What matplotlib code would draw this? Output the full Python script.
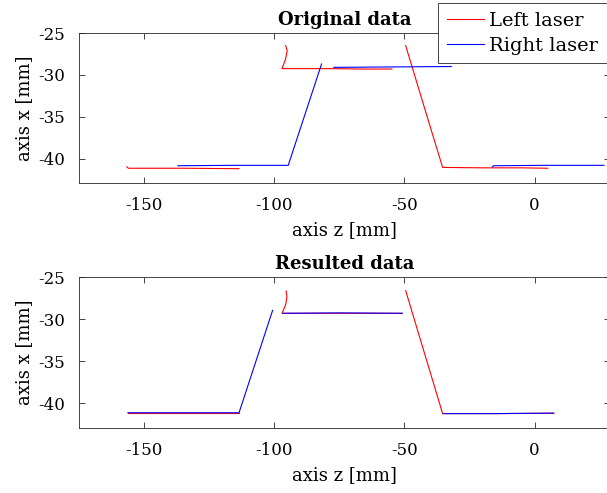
import numpy as np
import matplotlib.pyplot as plt

plt.rcParams['font.family'] = ['DejaVu Serif']
plt.rcParams['axes.unicode_minus'] = False

# Original data, left laser (red): z, x per segment
orig_left_z = [[-156.6, -156.0, -135.0, -113.5],
               [-95.6, -95.0, -95.6, -97.0, -80.0, -65.0, -54.8],
               [-49.5, -42.5, -35.3, -20.0, -5.0, 5.1]]
orig_left_x = [[-40.98, -41.15, -41.15, -41.2],
               [-26.5, -27.1, -28.1, -29.25, -29.25, -29.3, -29.3],
               [-26.5, -33.7, -41.05, -41.1, -41.1, -41.15]]

# Original data, right laser (blue)
orig_right_z = [[-137.0, -115.0, -94.6, -81.8],
                [-77.1, -55.0, -32.0],
                [-16.2, -15.8, 5.0, 26.7]]
orig_right_x = [[-40.85, -40.8, -40.8, -28.7],
                [-29.1, -29.05, -29.0],
                [-41.0, -40.85, -40.8, -40.8]]

# Resulted data, left laser (red)
res_left_z = [[-156.2, -135.0, -113.5],
              [-95.4, -95.1, -95.6, -97.0, -75.0, -50.8],
              [-49.5, -42.5, -35.3, -15.0, 7.4]]
res_left_x = [[-41.1, -41.1, -41.1],
              [-26.65, -27.3, -28.3, -29.3, -29.3, -29.3],
              [-26.6, -33.8, -41.2, -41.2, -41.15]]

# Resulted data, right laser (blue)
res_right_z = [[-156.2, -135.0, -113.5, -100.6],
               [-96.6, -75.0, -50.8],
               [-35.0, -15.0, 7.4]]
res_right_x = [[-41.1, -41.1, -41.1, -28.95],
               [-29.3, -29.25, -29.3],
               [-41.2, -41.2, -41.15]]

titles = ['Original data', 'Resulted data']
xticks = [-150, -100, -50, 0]
yticks = [-40, -35, -30, -25]

fig = plt.figure(figsize=(6.07, 4.93), dpi=100)
ax1 = fig.add_axes([0.130, 0.629, 0.875, 0.304])
ax2 = fig.add_axes([0.130, 0.132, 0.875, 0.306])

panels = [(ax1, orig_left_z, orig_left_x, orig_right_z, orig_right_x),
          (ax2, res_left_z, res_left_x, res_right_z, res_right_x)]

for i, (ax, lz, lx, rz, rx) in enumerate(panels):
    for j, (z, x) in enumerate(zip(lz, lx)):
        ax.plot(z, x, color='#ff0000', lw=0.8,
                label='Left laser' if j == 0 else None)
    for j, (z, x) in enumerate(zip(rz, rx)):
        ax.plot(z, x, color='#0000ff', lw=0.8,
                label='Right laser' if j == 0 else None)
    ax.set_xlim(-175, 29)
    ax.set_ylim(-42.9, -25)
    ax.set_xticks(xticks)
    ax.set_yticks(yticks)
    ax.tick_params(direction='in', top=True, right=True, length=4,
                   width=0.6, color='#262626', labelsize=12, pad=10)
    for s in ax.spines.values():
        s.set_color('#262626')
        s.set_linewidth(0.6)
    ax.set_xlabel('axis z [mm]', fontsize=13, labelpad=5)
    ax.set_ylabel('axis x [mm]', fontsize=13, labelpad=4)
    ax.set_title(titles[i], fontsize=13, fontweight='bold', pad=6)

leg = ax1.legend(loc='upper right', bbox_to_anchor=(1.0, 0.994),
                 bbox_transform=fig.transFigure, fontsize=14,
                 handlelength=1.9, handletextpad=0.3, borderpad=0.45,
                 labelspacing=0.35, borderaxespad=0, fancybox=False,
                 framealpha=1, edgecolor='#262626')
leg.get_frame().set_linewidth(0.6)

fig.savefig('out.png', dpi=100)
